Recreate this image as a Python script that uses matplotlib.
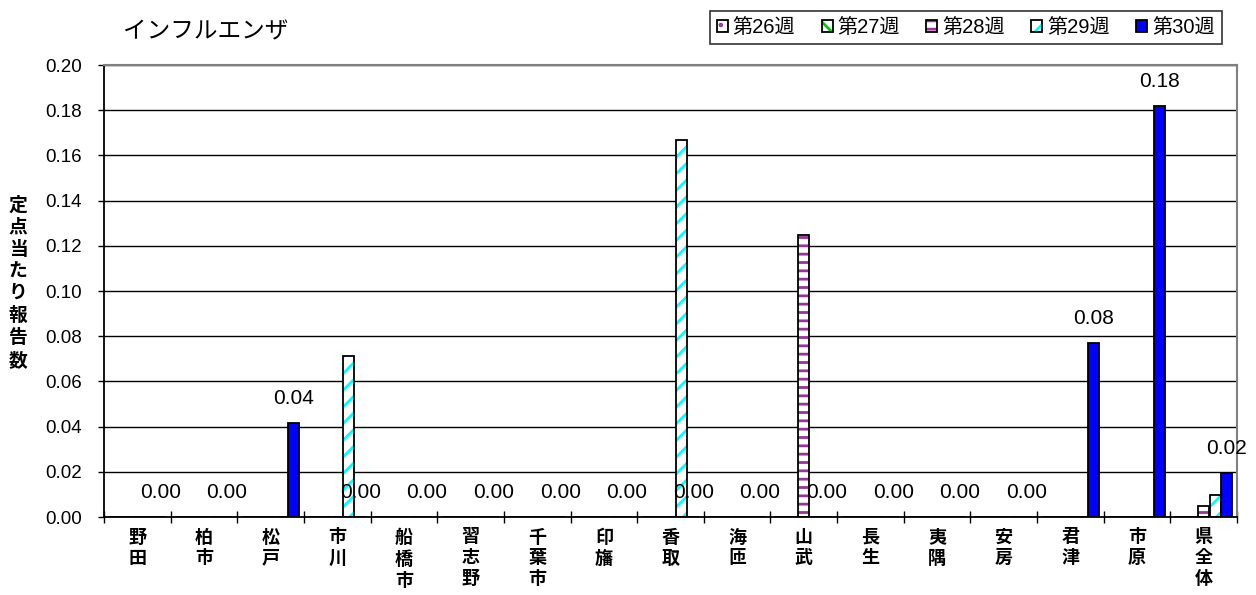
import matplotlib
matplotlib.use("Agg")
import matplotlib.pyplot as plt
import numpy as np
from matplotlib.patches import Patch
from matplotlib.legend_handler import HandlerTuple
from matplotlib.ticker import FixedLocator, NullFormatter

plt.rcParams['font.family'] = ['Liberation Sans', 'Noto Sans CJK JP', 'DejaVu Sans']
plt.rcParams['hatch.linewidth'] = 2.0

# ---- data ----
title = "インフルエンザ"
ylabel = "定点当たり報告数"
areas = ['野田', '柏市', '松戸', '市川', '船橋市', '習志野', '千葉市', '印旛', '香取',
         '海匝', '山武', '長生', '夷隅', '安房', '君津', '市原', '県全体']
weeks = ['第26週', '第27週', '第28週', '第29週', '第30週']
w26 = [0, 0, 0, 0, 0, 0, 0, 0, 0, 0, 0, 0, 0, 0, 0, 0, 0]
w27 = [0, 0, 0, 0, 0, 0, 0, 0, 0, 0, 0, 0, 0, 0, 0, 0, 0]
w28 = [0, 0, 0, 0, 0, 0, 0, 0, 0, 0, 0.125, 0, 0, 0, 0, 0, 0.005]
w29 = [0, 0, 0, 0.0714, 0, 0, 0, 0, 0.1667, 0, 0, 0, 0, 0, 0, 0, 0.0098]
w30 = [0, 0, 0.0417, 0, 0, 0, 0, 0, 0, 0, 0, 0, 0, 0, 0.0769, 0.1818, 0.0196]
yticks = [0.00, 0.02, 0.04, 0.06, 0.08, 0.10, 0.12, 0.14, 0.16, 0.18, 0.20]

series = [w26, w27, w28, w29, w30]
# style per series: (face, hatchcolor, hatch)
styles = [('white', '#993399', '..'),
          ('white', '#00CC00', '\\\\'),
          ('white', '#993399', '--'),
          ('white', '#00FFFF', '//'),
          ('#0000FF', None, None)]

W, H = 1256, 595
fig = plt.figure(figsize=(W / 100, H / 100), dpi=100)
ax = fig.add_axes([104 / W, 1 - 517 / H, (1237 - 104) / W, (517 - 65) / H])

x = np.arange(len(areas))
bw = 0.165
step = 0.172
handles = []
for i, (vals, (fc, hc, hp)) in enumerate(zip(series, styles)):
    pos = x + (i - 2) * step
    if hp is not None:
        ax.bar(pos, vals, bw, color=fc, edgecolor=hc, hatch=hp, linewidth=0, zorder=2)
        ax.bar(pos, vals, bw, fill=False, edgecolor='black', linewidth=1.3, zorder=3)
        h = (Patch(facecolor=fc, edgecolor=hc, hatch=hp, linewidth=0),
             Patch(fill=False, edgecolor='black', linewidth=1.3))
    else:
        ax.bar(pos, vals, bw, color=fc, edgecolor='black', linewidth=1.3, zorder=3)
        h = Patch(facecolor=fc, edgecolor='black', linewidth=1.3)
    handles.append(h)

# data labels for the last series
for xi, v in zip(x + 2 * step, w30):
    ax.annotate(f"{v:.2f}", (xi, v), xytext=(0, 17.5), textcoords='offset points',
                ha='center', va='center', fontsize=15, clip_on=False, zorder=5)

ax.set_xlim(-0.5, len(areas) - 0.5)
ax.set_ylim(0, 0.20)
ax.set_yticks(yticks)
ax.set_yticklabels([f"{t:.2f}" for t in yticks], fontsize=13.5)
ax.tick_params(axis='y', direction='out', length=4, width=1, pad=12)

ax.xaxis.set_major_locator(FixedLocator(np.arange(-0.5, len(areas), 1.0)))
ax.xaxis.set_major_formatter(NullFormatter())
ax.xaxis.set_minor_locator(FixedLocator(x))
ax.set_xticks(x, ['\n'.join(a) for a in areas], minor=True)
ax.tick_params(axis='x', which='major', direction='inout', length=8, width=1)
ax.tick_params(axis='x', which='minor', length=0, pad=9, labelsize=13)
for lab in ax.get_xticklabels(minor=True):
    lab.set_linespacing(1.3)
    lab.set_verticalalignment('top')
    lab.set_fontweight('bold')

ax.grid(axis='y', color='black', linewidth=1)
ax.set_axisbelow(True)
for s in ['top', 'right']:
    ax.spines[s].set_color('#808080')
    ax.spines[s].set_linewidth(1.5)
for s in ['left', 'bottom']:
    ax.spines[s].set_color('black')
    ax.spines[s].set_linewidth(1.3)

fig.text(123 / W, 1 - 32 / H, title, fontsize=17, ha='left', va='center')
fig.text(18 / W, 1 - 283 / H, '\n'.join(ylabel), fontsize=13.5, ha='center', va='center',
         linespacing=1.33, fontweight='bold')

leg = fig.legend(handles, weeks, loc='upper right', bbox_to_anchor=(1222 / W, 1 - 11 / H),
                 ncol=5, fontsize=14.5, handlelength=0.55, handleheight=0.55,
                 handletextpad=0.25, columnspacing=1.3, borderaxespad=0,
                 frameon=True, fancybox=False, edgecolor='black', borderpad=0.35,
                 handler_map={tuple: HandlerTuple(ndivide=1)})
leg.get_frame().set_linewidth(1.2)

fig.savefig('out.png', dpi=100)
